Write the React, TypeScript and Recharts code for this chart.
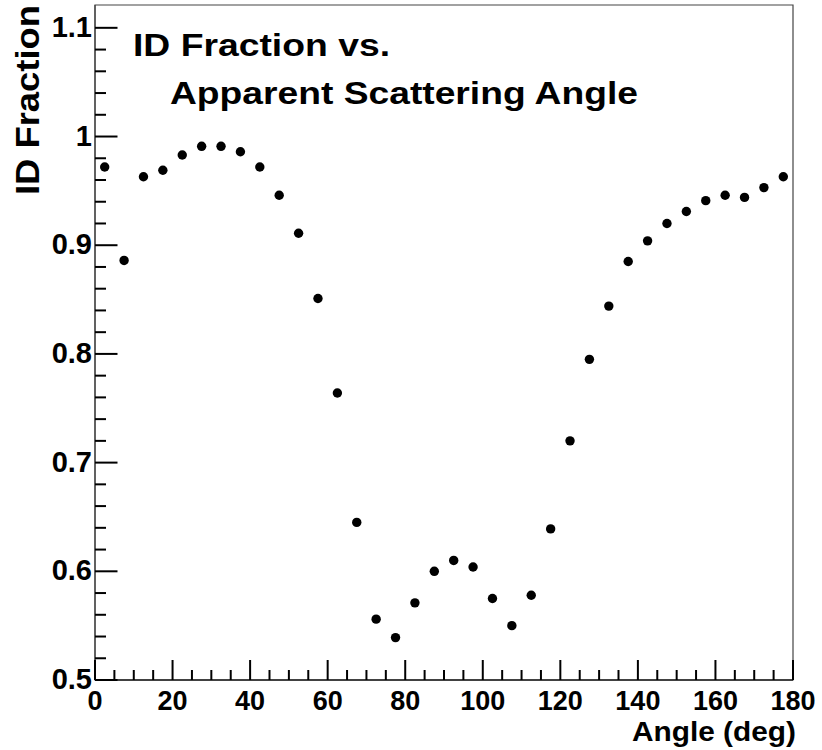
import React from 'react';
import { ScatterChart, Scatter, XAxis, YAxis, ReferenceArea } from 'recharts';

const angles = [
  2.5, 7.5, 12.5, 17.5, 22.5, 27.5, 32.5, 37.5, 42.5, 47.5, 52.5, 57.5,
  62.5, 67.5, 72.5, 77.5, 82.5, 87.5, 92.5, 97.5, 102.5, 107.5, 112.5, 117.5,
  122.5, 127.5, 132.5, 137.5, 142.5, 147.5, 152.5, 157.5, 162.5, 167.5, 172.5, 177.5,
];
const idFraction = [
  0.972, 0.886, 0.963, 0.969, 0.983, 0.991, 0.991, 0.986, 0.972, 0.946, 0.911, 0.851,
  0.764, 0.645, 0.556, 0.539, 0.571, 0.6, 0.61, 0.604, 0.575, 0.55, 0.578, 0.639,
  0.72, 0.795, 0.844, 0.885, 0.904, 0.92, 0.931, 0.941, 0.946, 0.944, 0.953, 0.963,
];
const xMajorTicks = [0, 20, 40, 60, 80, 100, 120, 140, 160, 180];
const yMajorTicks = [0.5, 0.6, 0.7, 0.8, 0.9, 1, 1.1];
const xTicks: number[] = [];
for (let i = 0; i <= 36; i++) xTicks.push(i * 5);
const yTicks: number[] = [];
for (let i = 0; i <= 30; i++) yTicks.push(Math.round((0.5 + i * 0.02) * 1000) / 1000);

const chartTitle = ['ID Fraction vs.', 'Apparent Scattering Angle'];
const xTitle = 'Angle (deg)';
const yTitle = 'ID Fraction';

const data = angles.map((a, i) => ({ angle: a, frac: idFraction[i] }));

const X_MIN = 0;
const X_MAX = 180;
const Y_MIN = 0.5;
const Y_MAX = 1.121;

const isMajorX = (v: number) => xMajorTicks.some((m) => Math.abs(m - v) < 1e-6);
const isMajorY = (v: number) => yMajorTicks.some((m) => Math.abs(m - v) < 1e-6);

const FONT = '"Liberation Sans", Arial, Helvetica, sans-serif';
const TICK = 'black';

const renderXTick = (props: any) => {
  const { x, y, payload, index } = props;
  const v = payload.value;
  const major = isMajorX(v);
  const len = major ? 20 : 10;
  return (
    <g key={`xt-${index}`}>
      <line x1={x} x2={x} y1={y} y2={y - len} stroke={TICK} strokeWidth={2} />
      {major && (
        <text x={x} y={y + 30} textAnchor="middle" fontFamily={FONT} fontWeight="bold" fontSize={27} fill="#000">
          {String(v)}
        </text>
      )}
    </g>
  );
};

const renderYTick = (props: any) => {
  const { x, y, payload, index } = props;
  const v = payload.value;
  const major = isMajorY(v);
  const len = major ? 22.5 : 11;
  return (
    <g key={`yt-${index}`}>
      <line x1={x} x2={x + len} y1={y} y2={y} stroke={TICK} strokeWidth={2} />
      {major && (
        <text x={x - 3} y={y + 9} textAnchor="end" fontFamily={FONT} fontWeight="bold" fontSize={29} fill="#000">
          {String(Math.round(v * 10) / 10)}
        </text>
      )}
    </g>
  );
};

const Dot = (props: any) => {
  const { cx, cy } = props;
  return <circle cx={cx} cy={cy} r={4.7} fill="#000" />;
};

export default function App() {
  return (
    <div style={{ position: 'absolute', left: 0, top: 0, width: 822, height: 750, background: '#fff' }}>
      <ScatterChart width={822} height={750} margin={{ top: 5, right: 29, bottom: 10, left: 35 }}>
        <XAxis
          type="number"
          dataKey="angle"
          domain={[X_MIN, X_MAX]}
          ticks={xTicks}
          interval={0}
          tickSize={0}
          tickMargin={0}
          height={60}
          axisLine={{ stroke: '#222', strokeWidth: 1.5 }}
          tickLine={false}
          tick={renderXTick}
        />
        <YAxis
          type="number"
          dataKey="frac"
          domain={[Y_MIN, Y_MAX]}
          ticks={yTicks}
          interval={0}
          tickSize={0}
          tickMargin={0}
          width={60}
          axisLine={{ stroke: '#444', strokeWidth: 1.2 }}
          tickLine={false}
          tick={renderYTick}
        />
        <ReferenceArea x1={X_MIN} x2={X_MAX} y1={Y_MIN} y2={Y_MAX} fill="none" stroke="#444" strokeWidth={1.2} ifOverflow="visible" />
        <Scatter data={data} isAnimationActive={false} shape={<Dot />} fill="#000" />
      </ScatterChart>
      <svg width={822} height={750} style={{ position: 'absolute', left: 0, top: 0, pointerEvents: 'none' }}>
        <text x={133} y={56} fontFamily={FONT} fontWeight="bold" fontSize={31} textLength={257} lengthAdjust="spacingAndGlyphs" fill="#000">
          {chartTitle[0]}
        </text>
        <text x={170} y={104} fontFamily={FONT} fontWeight="bold" fontSize={31} textLength={468} lengthAdjust="spacingAndGlyphs" fill="#000">
          {chartTitle[1]}
        </text>
        <text x={796} y={741} textAnchor="end" fontFamily={FONT} fontWeight="bold" fontSize={28} textLength={164} lengthAdjust="spacingAndGlyphs" fill="#000">
          {xTitle}
        </text>
        <text transform="translate(39,195) rotate(-90)" x={0} y={0} fontFamily={FONT} fontWeight="bold" fontSize={33} textLength={190} lengthAdjust="spacingAndGlyphs" fill="#000">
          {yTitle}
        </text>
      </svg>
    </div>
  );
}
